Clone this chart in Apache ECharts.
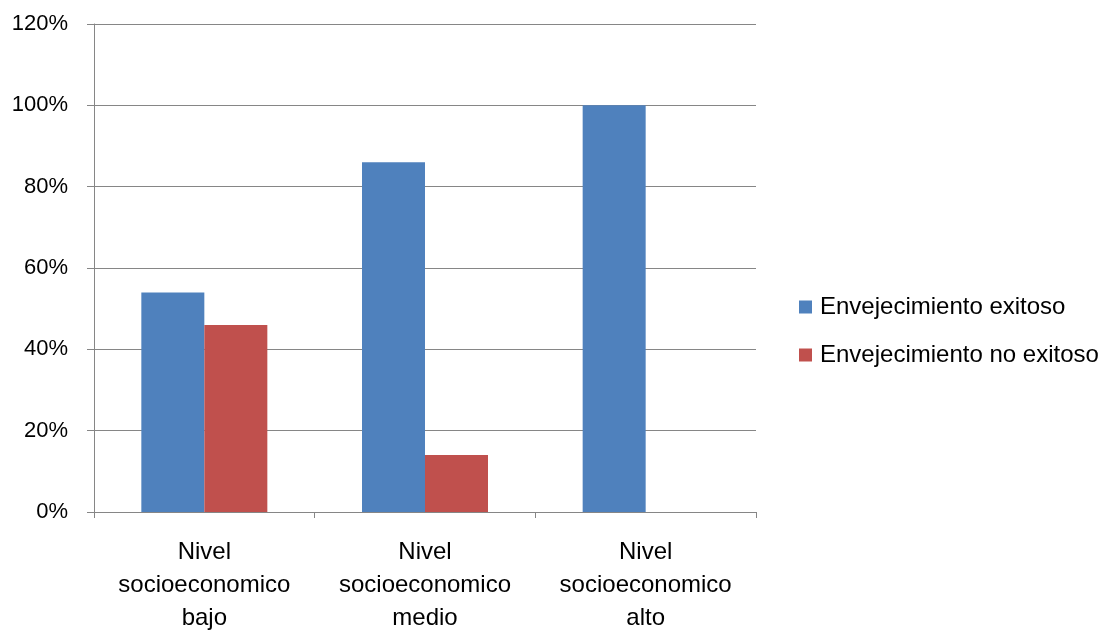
<!DOCTYPE html>
<html>
<head>
<meta charset="utf-8">
<script src="https://cdn.jsdelivr.net/npm/echarts@6/dist/echarts.min.js"></script>
<style>
  html, body { margin: 0; padding: 0; background: #fff; overflow: hidden; }
  #chart { width: 1107px; height: 635px; }
</style>
</head>
<body>
<div id="chart"></div>
<script>
// Socioeconomic level categories (x axis)
const categories = [
  'Nivel\nsocioeconomico\nbajo',
  'Nivel\nsocioeconomico\nmedio',
  'Nivel\nsocioeconomico\nalto'
];
// Share of each group, in percent
const exitoso = [54, 86, 100];
const noExitoso = [46, 14, 0];
const seriesNames = ['Envejecimiento exitoso', 'Envejecimiento no exitoso'];

const FONT = 'Liberation Sans, Arial, sans-serif';
const AXIS_GREY = '#868686';

const chart = echarts.init(document.getElementById('chart'), null, { renderer: 'canvas', width: 1107, height: 635 });
chart.setOption({
  animation: false,
  backgroundColor: '#ffffff',
  textStyle: { fontFamily: FONT },
  grid: { left: 94, right: 351, top: 24, bottom: 119, containLabel: false },
  legend: {
    orient: 'vertical',
    left: 799,
    top: 295,
    padding: 0,
    itemWidth: 13,
    itemHeight: 13,
    itemGap: 24,
    icon: 'rect',
    textStyle: { fontFamily: FONT, fontSize: 24, color: '#000', padding: [0, 0, 0, 3], lineHeight: 24 },
    data: seriesNames
  },
  xAxis: {
    type: 'category',
    data: categories,
    boundaryGap: true,
    axisLine: { lineStyle: { color: AXIS_GREY, width: 1 } },
    axisTick: { show: true, length: 6, alignWithLabel: false, lineStyle: { color: AXIS_GREY } },
    axisLabel: { color: '#000', fontSize: 24, lineHeight: 33, margin: 24, fontFamily: FONT, interval: 0 },
    splitLine: { show: false }
  },
  yAxis: {
    type: 'value',
    min: 0,
    max: 120,
    interval: 20,
    axisLine: { show: true, lineStyle: { color: AXIS_GREY, width: 1 } },
    axisTick: { show: true, length: 7, lineStyle: { color: AXIS_GREY } },
    axisLabel: { color: '#000', fontSize: 22, margin: 26, fontFamily: FONT, formatter: '{value}%' },
    splitLine: { show: true, lineStyle: { color: AXIS_GREY, width: 1 } }
  },
  series: [
    {
      name: seriesNames[0],
      type: 'bar',
      data: exitoso,
      barWidth: 63,
      barGap: '0%',
      itemStyle: { color: '#4F81BD' }
    },
    {
      name: seriesNames[1],
      type: 'bar',
      data: noExitoso,
      barWidth: 63,
      barGap: '0%',
      itemStyle: { color: '#C0504D' }
    }
  ]
});
</script>
</body>
</html>
